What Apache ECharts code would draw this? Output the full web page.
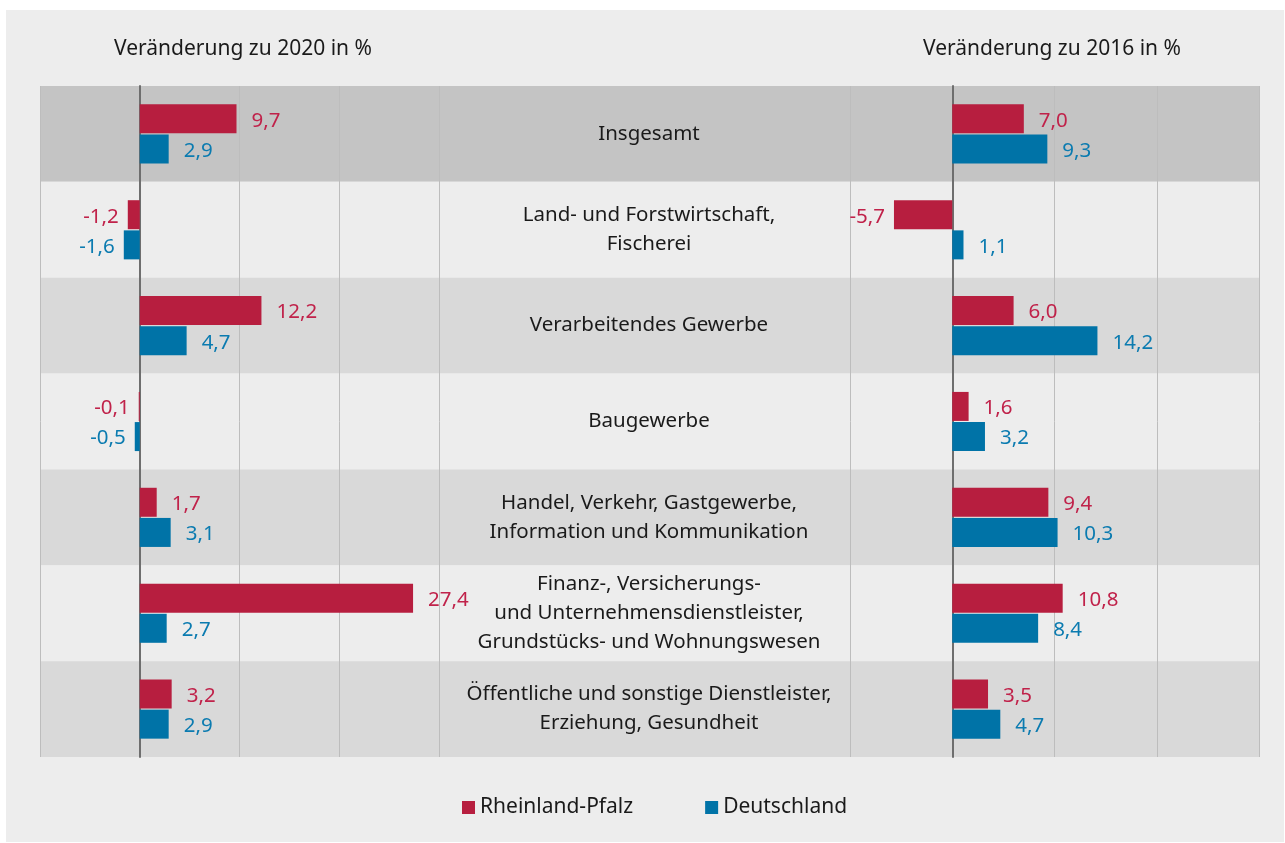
<!DOCTYPE html>
<html>
<head>
<meta charset="utf-8">
<script src="https://cdn.jsdelivr.net/npm/echarts@6/dist/echarts.min.js"></script>
<style>
  html, body { margin: 0; padding: 0; background: #ffffff; }
  #chart { width: 1285px; height: 843px; }
</style>
</head>
<body>
<div id="chart"></div>
<script>
// Wirtschaftsbereiche (von oben nach unten)
const categories = [
  'Insgesamt',
  'Land- und Forstwirtschaft,\nFischerei',
  'Verarbeitendes Gewerbe',
  'Baugewerbe',
  'Handel, Verkehr, Gastgewerbe,\nInformation und Kommunikation',
  'Finanz-, Versicherungs-\nund Unternehmensdienstleister,\nGrundstücks- und Wohnungswesen',
  'Öffentliche und sonstige Dienstleister,\nErziehung, Gesundheit'
];

// Veränderung zu 2020 in %
const rlp2020 = [9.7, -1.2, 12.2, -0.1, 1.7, 27.4, 3.2];
const de2020 = [2.9, -1.6, 4.7, -0.5, 3.1, 2.7, 2.9];

// Veränderung zu 2016 in %
const rlp2016 = [7.0, -5.7, 6.0, 1.6, 9.4, 10.8, 3.5];
const de2016 = [9.3, 1.1, 14.2, 3.2, 10.3, 8.4, 4.7];

const axisTicks = [-10, 0, 10, 20, 30];
const titles = ['Veränderung zu 2020 in %', 'Veränderung zu 2016 in %'];
const seriesNames = ['Rheinland-Pfalz', 'Deutschland'];

const RED = '#b71e3f';
const BLUE = '#0073a7';
const FONT = '"Noto Sans", "Open Sans", sans-serif';

const chart = echarts.init(document.getElementById('chart'));

const fmt = v => v.toFixed(1).replace('.', ',');

// Balken mit Beschriftung, negative Werte links
function barSeries(name, values, color, labelColor, axisIndex) {
  return {
    name: name,
    type: 'bar',
    xAxisIndex: axisIndex,
    yAxisIndex: axisIndex,
    barWidth: 29,
    barGap: '4%',
    itemStyle: { color: color },
    label: {
      show: true,
      color: labelColor,
      fontSize: 20.5,
      fontFamily: FONT,
      offset: [0, 2],
      formatter: p => fmt(p.value)
    },
    data: values.map(v => ({
      value: v,
      label: { position: v < 0 ? 'left' : 'right', distance: v < 0 ? 9 : 15 }
    }))
  };
}

const valueAxis = (gridIndex) => ({
  type: 'value',
  gridIndex: gridIndex,
  min: axisTicks[0],
  max: axisTicks[axisTicks.length - 1],
  interval: 10,
  axisLine: { show: false },
  axisTick: { show: false },
  axisLabel: { show: false },
  splitLine: { show: true, lineStyle: { color: '#bdbdbd', width: 1 } }
});

const catAxis = (gridIndex) => ({
  type: 'category',
  gridIndex: gridIndex,
  inverse: true,
  data: categories,
  axisLine: { show: true, onZero: true, lineStyle: { color: '#6e6e6e', width: 2 } },
  axisTick: { show: false },
  axisLabel: { show: false },
  splitLine: { show: false }
});

const titleStyle = { fontFamily: FONT, fontSize: 21, fontWeight: 'normal', color: '#1a1a1a' };

const option = {
  backgroundColor: '#ffffff',
  animation: false,
  graphic: [{
    type: 'rect',
    z: -100,
    silent: true,
    shape: { x: 6, y: 10, width: 1278, height: 832 },
    style: { fill: '#ededed' }
  }],
  title: [
    { text: titles[0], left: 238, top: 34, textAlign: 'center', textStyle: titleStyle },
    { text: titles[1], left: 1047, top: 34, textAlign: 'center', textStyle: titleStyle }
  ],
  legend: {
    data: seriesNames,
    bottom: 20,
    left: 457,
    itemWidth: 13,
    itemHeight: 13,
    itemGap: 72,
    icon: 'rect',
    textStyle: { fontFamily: FONT, fontSize: 21, color: '#1a1a1a' }
  },
  grid: [
    // Hintergrundbänder + Kategorienamen
    { left: 40, width: 1219, top: 86, height: 671 },
    // links: zu 2020
    { left: 40, width: 399, top: 86, height: 671 },
    // rechts: zu 2016
    { left: 850, width: 409, top: 86, height: 671 }
  ],
  xAxis: [
    { type: 'value', gridIndex: 0, min: 0, max: 1, show: false },
    valueAxis(1),
    valueAxis(2)
  ],
  yAxis: [
    {
      type: 'category',
      gridIndex: 0,
      inverse: true,
      data: categories,
      axisLine: { show: false },
      axisTick: { show: false },
      splitLine: { show: false },
      axisLabel: {
        show: true,
        align: 'center',
        margin: -609,
        fontFamily: FONT,
        fontSize: 20.5,
        lineHeight: 29,
        padding: [4, 0, 0, 0],
        color: '#1a1a1a'
      },
      splitArea: {
        show: true,
        areaStyle: {
          color: ['#c4c4c4', '#ededed', '#d9d9d9', '#ededed', '#d9d9d9', '#ededed', '#d9d9d9']
        }
      }
    },
    catAxis(1),
    catAxis(2)
  ],
  series: [
    barSeries(seriesNames[0], rlp2020, RED, '#c0224a', 1),
    barSeries(seriesNames[1], de2020, BLUE, '#0b7bb0', 1),
    barSeries(seriesNames[0], rlp2016, RED, '#c0224a', 2),
    barSeries(seriesNames[1], de2016, BLUE, '#0b7bb0', 2)
  ]
};

chart.setOption(option);
</script>
</body>
</html>
